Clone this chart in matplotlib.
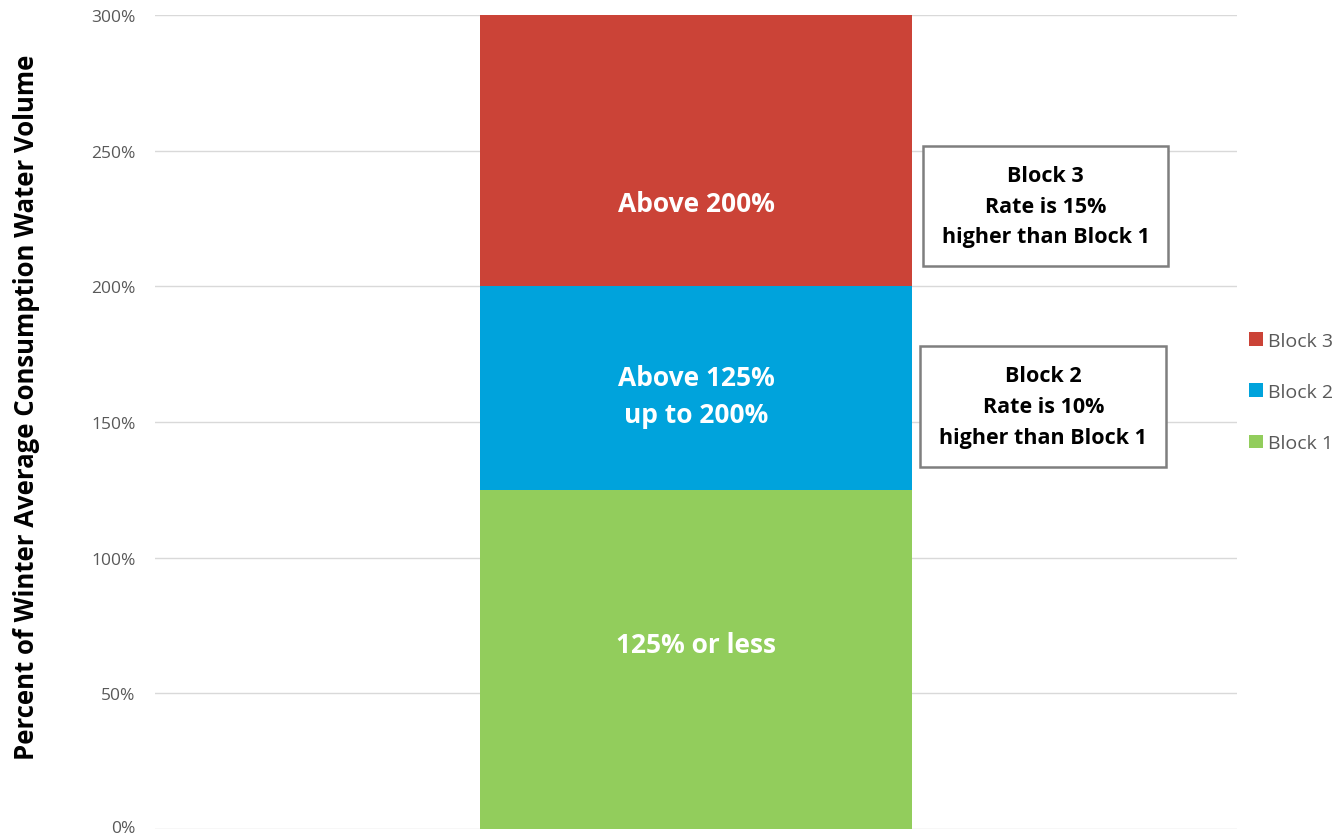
import matplotlib
matplotlib.use("Agg")
import matplotlib.pyplot as plt
import matplotlib.transforms as mtransforms
from matplotlib.patches import Patch

plt.rcParams['font.family'] = ['Open Sans', 'DejaVu Sans']

# Data
categories = ["Block 1", "Block 2", "Block 3"]
block_sizes = [125, 75, 100]          # percent of winter average consumption
block_colors = ["#92CD5C", "#00A3DC", "#CB4337"]
bar_labels = ["125% or less", "Above 125%\nup to 200%", "Above 200%"]
yticks = [0, 50, 100, 150, 200, 250, 300]
ytick_labels = ["0%", "50%", "100%", "150%", "200%", "250%", "300%"]
notes = ["Block 2\nRate is 10%\nhigher than Block 1",
         "Block 3\nRate is 15%\nhigher than Block 1"]

fig = plt.figure(figsize=(13.41, 8.37), dpi=100)
ax = fig.add_axes([155/1341, 1-830/837, (1237-155)/1341, (830-16)/837])

bottom = 0
handles = []
for cat, size, col in zip(categories, block_sizes, block_colors):
    ax.bar(0, size, width=0.4, bottom=bottom, color=col, zorder=3)
    handles.append(Patch(facecolor=col, label=cat))
    bottom += size

# bar labels (placed within each block)
label_y = [68, 159.5, 230.5]
for txt, y in zip(bar_labels, label_y):
    ax.text(0.0, y, txt, ha='center', va='center', color='white',
            fontsize=19, fontweight='bold', linespacing=1.5, zorder=4)

# annotation boxes
note_y = [155.7, 229.6]
note_x = [0.321, 0.323]
for txt, x, y in zip(notes, note_x, note_y):
    ax.text(x, y, txt, ha='center', va='center', color='black',
            fontsize=15.5, fontweight='bold', linespacing=1.62, zorder=5,
            bbox=dict(boxstyle='square,pad=0.88', facecolor='white',
                      edgecolor='#7F7F7F', linewidth=1.8))

ax.set_xlim(-0.5, 0.5)
ax.set_ylim(0, 300)
ax.set_yticks(yticks)
ax.set_yticklabels(ytick_labels)
ax.set_xticks([])
ax.tick_params(axis='y', length=0, pad=14, labelsize=12.5, labelcolor='#595959')
ax.grid(axis='y', color='#D9D9D9', linewidth=1, zorder=0)
for s in ax.spines.values():
    s.set_visible(False)

# keep the 0% label inside the canvas
lbl0 = ax.get_yticklabels()[0]
lbl0.set_transform(lbl0.get_transform() +
                   mtransforms.ScaledTranslation(0, 3/100, fig.dpi_scale_trans))

fig.text(27/1341, 1-407/837, "Percent of Winter Average Consumption Water Volume",
         rotation=90, ha='center', va='center', fontsize=18.5, fontweight='bold',
         color='black')

fig.legend(handles=handles[::-1], loc='center left',
           bbox_to_anchor=(1249/1341, 1-393/837), frameon=False,
           fontsize=14, labelcolor='#595959', handlelength=0.7,
           handleheight=0.7, handletextpad=0.3, labelspacing=1.72,
           borderpad=0, borderaxespad=0)

fig.savefig("out.png", dpi=100)
